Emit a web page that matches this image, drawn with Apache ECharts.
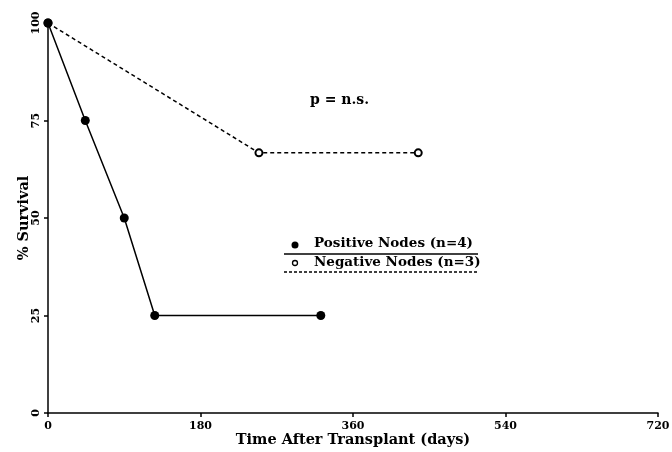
<!DOCTYPE html>
<html>
<head>
<meta charset="utf-8">
<script src="https://cdn.jsdelivr.net/npm/echarts@6/dist/echarts.min.js"></script>
<style>html,body{margin:0;padding:0;background:#fff}#c{width:672px;height:452px}</style>
</head>
<body>
<div id="c"></div>
<script>
// Data
var positiveDays = [0, 44, 90, 126, 322];
var positiveSurvival = [100, 75, 50, 25, 25];
var negativeDays = [0, 249, 437];
var negativeSurvival = [100, 66.7, 66.7];
var xTicks = [0, 180, 360, 540, 720];
var yTicks = [0, 25, 50, 75, 100];
var legendLabels = ['Positive Nodes (n=4)', 'Negative Nodes (n=3)'];
var annotation = 'p = n.s.';

var serif = '"DejaVu Serif", "Liberation Serif", serif';
function pairs(xs, ys) { return xs.map(function (x, i) { return [x, ys[i]]; }); }

var chart = echarts.init(document.getElementById('c'));
chart.setOption({
  animation: false,
  backgroundColor: '#fff',
  grid: { left: 48, right: 14, top: 23, bottom: 39, containLabel: false, outerBoundsMode: 'none' },
  xAxis: {
    type: 'value', min: xTicks[0], max: xTicks[xTicks.length - 1], interval: 180,
    name: 'Time After Transplant (days)', nameLocation: 'middle', nameGap: 20, nameMoveOverlap: false,
    nameTextStyle: { fontFamily: serif, fontWeight: 'bold', fontSize: 14.5, color: '#000' },
    axisLine: { lineStyle: { color: '#000', width: 1.5 } },
    axisTick: { length: 4, lineStyle: { color: '#000', width: 1.5 } },
    axisLabel: { fontFamily: serif, fontWeight: 'bold', fontSize: 11, color: '#000', margin: 8 },
    splitLine: { show: false }
  },
  yAxis: {
    type: 'value', min: yTicks[0], max: yTicks[yTicks.length - 1], interval: 25,
    name: '% Survival', nameLocation: 'middle', nameGap: 16, nameMoveOverlap: false,
    nameTextStyle: { fontFamily: serif, fontWeight: 'bold', fontSize: 14.5, color: '#000' },
    axisLine: { show: true, lineStyle: { color: '#000', width: 1.5 } },
    axisTick: { show: true, length: 4, lineStyle: { color: '#000', width: 1.5 } },
    axisLabel: { fontFamily: serif, fontWeight: 'bold', fontSize: 11, color: '#000', rotate: 90, margin: 6 },
    splitLine: { show: false }
  },
  series: [
    {
      type: 'line', data: pairs(positiveDays, positiveSurvival),
      symbol: 'circle', symbolSize: 9,
      itemStyle: { color: '#000' },
      lineStyle: { color: '#000', width: 1.5 }
    },
    {
      type: 'line', data: pairs(negativeDays, negativeSurvival),
      symbol: 'circle', symbolSize: 7,
      itemStyle: { color: '#fff', borderColor: '#000', borderWidth: 2 },
      lineStyle: { color: '#000', width: 1.5, type: [4, 3] },
      z: 1
    }
  ],
  graphic: [
    { type: 'text', left: 310, top: 93, style: { text: annotation, font: 'bold 14px ' + serif, fill: '#000' } },
    { type: 'circle', shape: { cx: 295, cy: 245, r: 3.5 }, style: { fill: '#000' } },
    { type: 'text', left: 314, top: 236, style: { text: legendLabels[0], font: 'bold 13.5px ' + serif, fill: '#000' } },
    { type: 'line', shape: { x1: 284, y1: 254, x2: 478, y2: 254 }, style: { stroke: '#000', lineWidth: 1.5 } },
    { type: 'circle', shape: { cx: 295, cy: 263, r: 2.5 }, style: { fill: '#fff', stroke: '#000', lineWidth: 1.3 } },
    { type: 'text', left: 314, top: 255, style: { text: legendLabels[1], font: 'bold 13.5px ' + serif, fill: '#000' } },
    { type: 'line', shape: { x1: 284, y1: 272, x2: 478, y2: 272 }, style: { stroke: '#000', lineWidth: 1.5, lineDash: [3, 2] } }
  ]
});
</script>
</body>
</html>
